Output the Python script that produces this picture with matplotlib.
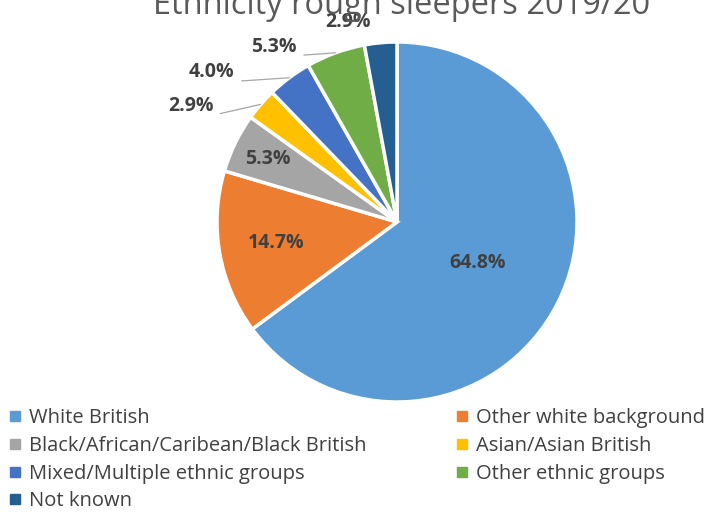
import numpy as np
import matplotlib
matplotlib.use("Agg")
import matplotlib.pyplot as plt
from matplotlib.lines import Line2D

# ----------------------------------------------------------------------------
# Data
# ----------------------------------------------------------------------------
TITLE = "Ethnicity rough sleepers 2019/20"
CATEGORIES = [
    "White British",
    "Other white background",
    "Black/African/Caribean/Black British",
    "Asian/Asian British",
    "Mixed/Multiple ethnic groups",
    "Other ethnic groups",
    "Not known",
]
SHARES = [64.8, 14.7, 5.3, 2.9, 4.0, 5.3, 2.9]
COLORS = ["#5B9BD5", "#ED7D31", "#A5A5A5", "#FFC000", "#4472C4", "#70AD47", "#255E91"]

# label placement: inside radius, or offset from the wedge edge for outside labels
INSIDE_R = [0.50, 0.68, 0.80, None, None, None, None]
OUTSIDE_OFFSET = [None, None, None, (-0.39, -0.01), (-0.43, 0.03),
                  (-0.34, 0.035), (-0.18, 0.115)]
LEADER = [False, False, False, True, True, True, False]

plt.rcParams["font.family"] = ["Open Sans", "DejaVu Sans"]

W, H = 721, 512
fig = plt.figure(figsize=(W / 100, H / 100), dpi=100)

# pie centre and radius in pixels
cx, cy, rad = 397, 222, 180
ax = fig.add_axes([(cx - rad) / W, (H - cy - rad) / H, 2 * rad / W, 2 * rad / H])
wedges, _ = ax.pie(SHARES, colors=COLORS, startangle=90, counterclock=False,
                   wedgeprops=dict(edgecolor="white", linewidth=2.5))
ax.set_xlim(-1, 1)
ax.set_ylim(-1, 1)
ax.set_aspect("equal")
ax.axis("off")

lbl = dict(ha="center", va="center", fontsize=14, fontweight="bold",
           color="#404040")
for w, val, r_in, off, lead in zip(wedges, SHARES, INSIDE_R, OUTSIDE_OFFSET, LEADER):
    mid = np.deg2rad((w.theta1 + w.theta2) / 2)
    label = f"{val:.1f}%"
    if r_in is not None:
        ax.text(r_in * np.cos(mid), r_in * np.sin(mid), label, **lbl)
        continue
    ex, ey = np.cos(mid), np.sin(mid)
    if lead:
        ax.annotate(label, xy=(ex, ey), xytext=(ex + off[0], ey + off[1]),
                    annotation_clip=False,
                    arrowprops=dict(arrowstyle="-", color="#A6A6A6", lw=0.9,
                                    relpos=(1.0, 0.05), shrinkA=3, shrinkB=0),
                    **lbl)
    else:
        ax.text(ex + off[0], ey + off[1], label, **lbl)

fig.text(0.557, 0.99, TITLE, ha="center", va="center", fontsize=23.5,
         color="#595959")

# legend: two columns, filled row by row
order = [0, 2, 4, 6, 1, 3, 5]
handles = [Line2D([], [], marker="s", linestyle="none", markersize=6.5,
                  markerfacecolor=COLORS[i], markeredgecolor=COLORS[i])
           for i in order]
fig.legend(handles, [CATEGORIES[i] for i in order], ncol=2,
           loc="upper left", bbox_to_anchor=(0.0, 0.214), frameon=False,
           fontsize=14.5, labelcolor="#404040", handletextpad=0.25,
           handlelength=0.9, columnspacing=4.3, labelspacing=0.38,
           borderaxespad=0.0, borderpad=0.3)

fig.savefig("out.png", dpi=100)
